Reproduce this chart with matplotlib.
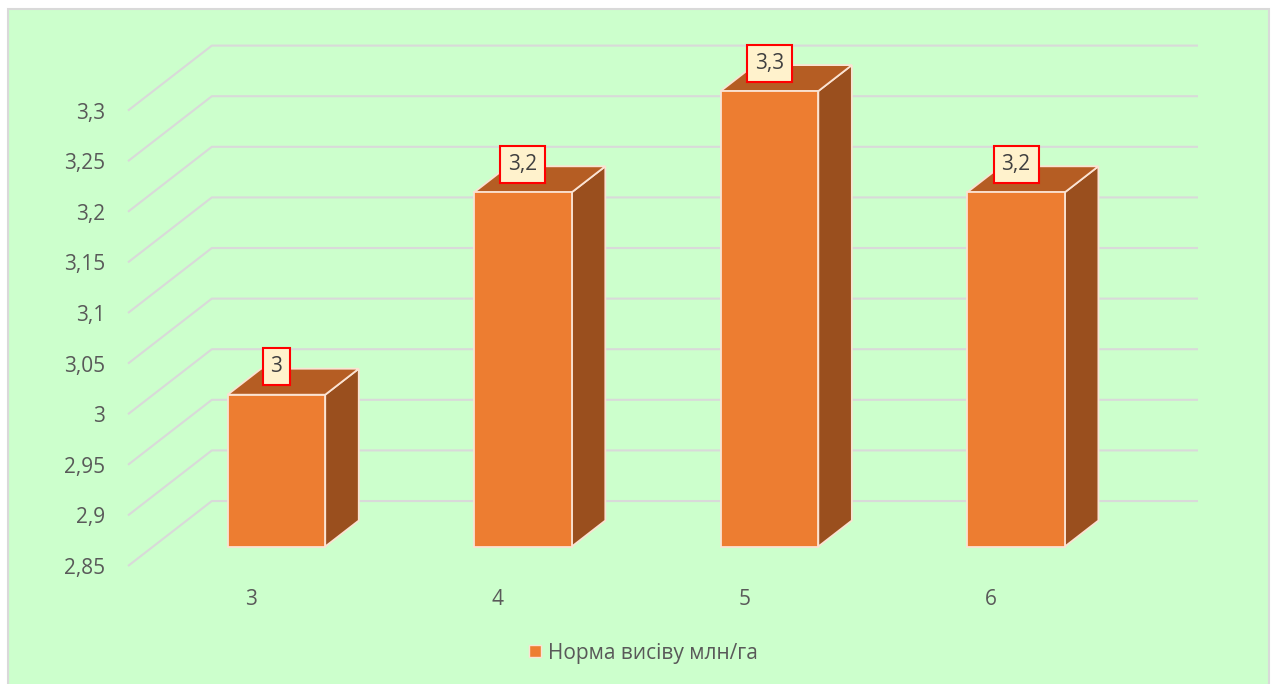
import matplotlib
matplotlib.use("Agg")
import matplotlib.pyplot as plt
from matplotlib.patches import Polygon, Rectangle, Patch
from matplotlib.transforms import offset_copy

# ---- data -------------------------------------------------------------
categories = ["3", "4", "5", "6"]
values = [3.0, 3.2, 3.3, 3.2]
value_labels = ["3", "3,2", "3,3", "3,2"]
series_name = "Норма висіву млн/га"
y_ticks = [2.85, 2.9, 2.95, 3.0, 3.05, 3.1, 3.15, 3.2, 3.25, 3.3]
y_tick_labels = ["2,85", "2,9", "2,95", "3", "3,05", "3,1", "3,15", "3,2", "3,25", "3,3"]

# ---- style ------------------------------------------------------------
plt.rcParams["font.family"] = ["Open Sans", "DejaVu Sans"]
BG = "#CCFFCC"
GRID = "#D9D9D9"
TEXT = "#595959"
FRONT = "#ED7D31"
TOP = "#B55D23"
SIDE = "#9A4F1E"
EDGE = "#FBE3D3"
FS = 15

W, H = 1274, 684
fig = plt.figure(figsize=(W / 100, H / 100), dpi=100)
fig.patch.set_facecolor("white")
frame = Rectangle((7.5 / W, -0.01), (1268.5 - 7.5) / W, (H - 9) / H + 0.01,
                  transform=fig.transFigure, facecolor=BG,
                  edgecolor=GRID, linewidth=1.5, zorder=-10)
fig.patches.append(frame)

# oblique projection: depth 0 = front plane, depth 1 = back wall
DX = 0.34      # horizontal shift of the back wall, in category units
DV = 0.0642    # vertical shift of the back wall, in value units
ymin = y_ticks[0]
ymax_view = 3.3648
x_lo, x_hi = -0.5, len(categories) - 0.5

left_px, right_px, top_px, bottom_px = 128, 1198, 45, 566
ax = fig.add_axes([left_px / W, 1 - bottom_px / H,
                   (right_px - left_px) / W, (bottom_px - top_px) / H])
ax.set_xlim(x_lo, x_hi + DX)
ax.set_ylim(ymin, ymax_view)
ax.axis("off")
ax.set_zorder(1)


def proj(x, v, d):
    return x + d * DX, v + d * DV


# gridlines on the side wall and back wall
for v in y_ticks:
    p0 = proj(x_lo, v, 0)
    p1 = proj(x_lo, v, 1)
    p2 = proj(x_hi, v, 1)
    ax.plot([p0[0], p1[0], p2[0]], [p0[1], p1[1], p2[1]], color=GRID,
            lw=1.5, zorder=1, clip_on=False, solid_capstyle="butt")

# value axis labels
lab_tr = offset_copy(ax.transData, fig=fig, x=-23 * 0.72, y=0, units="points")
for v, t in zip(y_ticks, y_tick_labels):
    ax.text(x_lo, v, t, transform=lab_tr, ha="right", va="center_baseline",
            fontsize=FS, color=TEXT)

# category labels
cat_tr = offset_copy(ax.transData, fig=fig, x=0, y=-31 * 0.72, units="points")
for i, c in enumerate(categories):
    ax.text(i, ymin, c, transform=cat_tr, ha="center", va="center_baseline",
            fontsize=FS, color=TEXT, clip_on=False)

# 3D bars
half_w = 0.198
d_front, d_back = 0.3, 0.7
lbl_tr = offset_copy(ax.transData, fig=fig, x=0, y=28 * 0.72, units="points")
for i, (v, lab) in enumerate(zip(values, value_labels)):
    xl, xr = i - half_w, i + half_w
    front = [proj(xl, ymin, d_front), proj(xr, ymin, d_front),
             proj(xr, v, d_front), proj(xl, v, d_front)]
    top = [proj(xl, v, d_front), proj(xr, v, d_front),
           proj(xr, v, d_back), proj(xl, v, d_back)]
    side = [proj(xr, ymin, d_front), proj(xr, ymin, d_back),
            proj(xr, v, d_back), proj(xr, v, d_front)]
    for poly, col in ((side, SIDE), (top, TOP), (front, FRONT)):
        ax.add_patch(Polygon(poly, closed=True, facecolor=col, edgecolor=EDGE,
                             linewidth=1.3, joinstyle="miter", zorder=3,
                             clip_on=False))
    fx, fy = proj(i, v, d_front)
    ax.text(fx, fy, lab, transform=lbl_tr, ha="center", va="center",
            fontsize=FS, color="#404040", zorder=5,
            bbox=dict(boxstyle="square,pad=0.38", facecolor="#FFF2CC",
                      edgecolor="#FF0000", linewidth=1.5))

# legend
handle = Patch(facecolor=FRONT, edgecolor=EDGE, linewidth=1.0, label=series_name)
leg = fig.legend(handles=[handle], loc="center",
                 bbox_to_anchor=(643.5 / W, 1 - 653 / H), frameon=False,
                 fontsize=FS, handlelength=0.55, handleheight=0.55,
                 handletextpad=0.35, borderpad=0)
for t in leg.get_texts():
    t.set_color(TEXT)

fig.savefig("out.png", dpi=100, facecolor=fig.get_facecolor())
